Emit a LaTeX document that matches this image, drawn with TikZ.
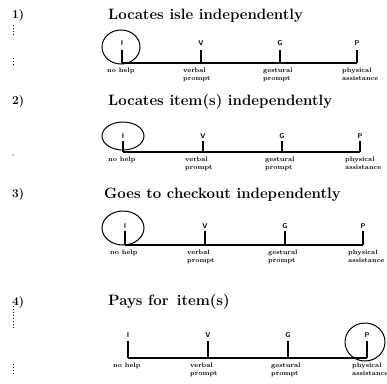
\documentclass[tikz,border=0pt]{standalone}
\usepackage{tikz}
\begin{document}
\begin{tikzpicture}[x=1pt,y=-1pt,
  num/.style={font=\fontsize{12}{14}\selectfont\bfseries, anchor=west, inner sep=0pt},
  title/.style={font=\fontsize{15}{17}\selectfont\bfseries, anchor=west, inner sep=0pt},
  level/.style={font=\fontsize{7}{8}\selectfont\bfseries\sffamily, inner sep=0pt},
  cue/.style={font=\fontsize{6.5}{7.6}\selectfont\bfseries, anchor=north west, inner sep=0pt, align=left},
  scaleline/.style={line width=1.3pt},
  tick/.style={line width=1.1pt},
  ring/.style={line width=1pt},
  speck/.style={line width=1pt, dotted}]
\useasboundingbox (0,0) rectangle (387,383);

% one rating row: #1 = row name, #2 = baseline y, #3..#6 = tick x positions,
% #7 = letter y, #8 = tick top y
\newcommand{\ratingrow}[8]{%
  \node[level] (#1I) at (#3,#7) {I};
  \node[level] (#1V) at (#4,#7) {V};
  \node[level] (#1G) at (#5,#7) {G};
  \node[level] (#1P) at (#6,#7) {P};
  \coordinate (#1bI) at (#3,#2);
  \coordinate (#1bV) at (#4,#2);
  \coordinate (#1bG) at (#5,#2);
  \coordinate (#1bP) at (#6,#2);
  \coordinate (#1tI) at (#3,#8);
  \coordinate (#1tV) at (#4,#8);
  \coordinate (#1tG) at (#5,#8);
  \coordinate (#1tP) at (#6,#8);
  \draw[scaleline] (#1bI) -- (#1bP);
  \draw[tick] (#1tI) -- (#1bI);
  \draw[tick] (#1tV) -- (#1bV);
  \draw[tick] (#1tG) -- (#1bG);
  \draw[tick] (#1tP) -- (#1bP);
  \node[cue] (#1lI) at ([shift={(-15,5)}]#1bI) {no help};
  \node[cue] (#1lV) at ([shift={(-18,5)}]#1bV) {verbal\\prompt};
  \node[cue] (#1lG) at ([shift={(-17,5)}]#1bG) {gestural\\prompt};
  \node[cue] (#1lP) at ([shift={(-15,5)}]#1bP) {physical\\assistance};
}

% 1) Locates isle independently
\node[num] (n1) at (12,16) {1)};
\node[title] (t1) at (108,16) {Locates isle independently};
\ratingrow{a}{63}{122}{201}{280}{357}{43}{50}
\draw[ring] (121,47) ellipse [x radius=19, y radius=17];

% 2) Locates item(s) independently
\node[num] (n2) at (12,102) {2)};
\node[title] (t2) at (108,102) {Locates item(s) independently};
\ratingrow{b}{152}{123}{203}{282}{360}{136}{141}
\draw[ring] (123,136) ellipse [x radius=21, y radius=14];

% 3) Goes to checkout independently
\node[num] (n3) at (12,195) {3)};
\node[title] (t3) at (104,195) {Goes to checkout independently};
\ratingrow{c}{245}{125}{205}{285}{363}{226}{231}
\draw[ring] (123,228) ellipse [x radius=21, y radius=17];

% 4) Pays for item(s)
\node[num] (n4) at (12,302) {4)};
\node[title] (t4) at (108,302) {Pays for~\,item(s)};
\ratingrow{d}{358}{128}{208}{288}{367}{335}{341}
\draw[ring] (365,342) ellipse [x radius=20, y radius=19];

% stray marks down the left margin
\draw[speck] (13,25) -- (13,37);
\draw[speck] (13,58) -- (13,65);
\fill (13,155) circle (0.7);
\draw[speck] (13,306) -- (13,329);
\draw[speck] (13,364) -- (13,376);
\end{tikzpicture}
\end{document}
